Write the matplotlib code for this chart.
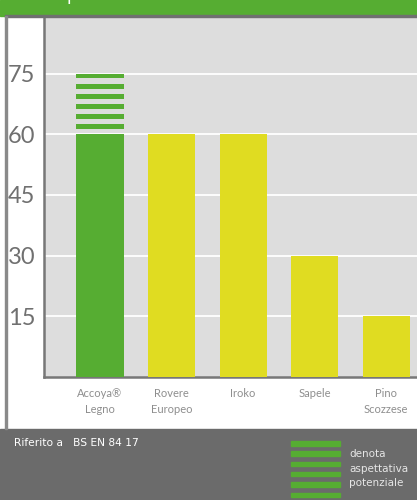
import matplotlib
matplotlib.use("Agg")
import matplotlib.pyplot as plt
from matplotlib.patches import Rectangle

# chart data
categories = ["Accoya®\nLegno", "Rovere\nEuropeo", "Iroko", "Sapele", "Pino\nScozzese"]
values = [60, 60, 60, 30, 15]
potential = [75, None, None, None, None]
bar_colors = ["#56ad32", "#e0dc21", "#e0dc21", "#e0dc21", "#e0dc21"]
yticks = [15, 30, 45, 60, 75]
reference_text = "Riferito a   BS EN 84 17"
legend_text = "denota\naspettativa\npotenziale"

GREEN = "#56ad32"
W, H = 417, 500

fig = plt.figure(figsize=(W / 100, H / 100), dpi=100)
fig.patch.set_facecolor("white")


def fx(px):
    return px / W


def fy(py):
    return 1 - py / H


# header band, footer band, frame lines
fig.add_artist(Rectangle((0, fy(15.5)), 1, 15.5 / H, transform=fig.transFigure, color=GREEN, zorder=0))
fig.add_artist(Rectangle((fx(5), fy(17)), 1, 2 / H, transform=fig.transFigure, color="#707070", zorder=1))
fig.add_artist(Rectangle((0, 0), 1, fy(428.5), transform=fig.transFigure, color="#6b6b6b", zorder=0))
fig.add_artist(Rectangle((fx(4.5), fy(428.5)), 2 / W, (428.5 - 16) / H, transform=fig.transFigure,
                         color="#8a8a8a", zorder=1))
fig.text(fx(67), 1.0, "p", color="white", fontsize=12, va="baseline", ha="left")

ax = fig.add_axes([fx(43.5), fy(377), 1 - fx(43.5), (377 - 17) / H])
ax.set_facecolor("#dddddd")
ax.set_xlim(-0.79, 4.43)
ax.set_ylim(0, 89)

x = list(range(len(categories)))
ax.bar(x, values, width=0.66, color=bar_colors, zorder=3)

# striped potential section
stripe_h = 1.2
stripe_step = 2.5
for i, (v, p) in enumerate(zip(values, potential)):
    if p is None:
        continue
    top = p
    while top > v + 0.5:
        ax.bar(i, stripe_h, bottom=top - stripe_h, width=0.66, color=bar_colors[i], zorder=3)
        top -= stripe_step

ax.set_yticks(yticks)
ax.set_yticklabels([str(t) for t in yticks], fontsize=17, color="#707070", family="Lato")
ax.set_xticks(x)
ax.set_xticklabels(categories, fontsize=8, color="#8e8e8e", family="Lato", linespacing=1.5)
ax.tick_params(axis="y", length=0, pad=6)
ax.tick_params(axis="x", length=0, pad=8)
ax.grid(axis="y", color="white", linewidth=1.3, zorder=1)
for side in ["top", "right"]:
    ax.spines[side].set_visible(False)
for side in ["left", "bottom"]:
    ax.spines[side].set_color("#777777")
    ax.spines[side].set_linewidth(1.8)

# footer text and legend
fig.text(fx(14), fy(443), reference_text, color="white", fontsize=7.7, va="center", ha="left")
for k in range(6):
    top = 441 + k * 10.3
    fig.add_artist(Rectangle((fx(291), fy(top + 4.5)), 49 / W, 4.5 / H,
                             transform=fig.transFigure, color=GREEN, zorder=2))
fig.text(fx(349), fy(468.5), legend_text, color="#e6e6e6", fontsize=7.5, va="center",
         ha="left", linespacing=1.6)

fig.savefig("out.png", dpi=100)
